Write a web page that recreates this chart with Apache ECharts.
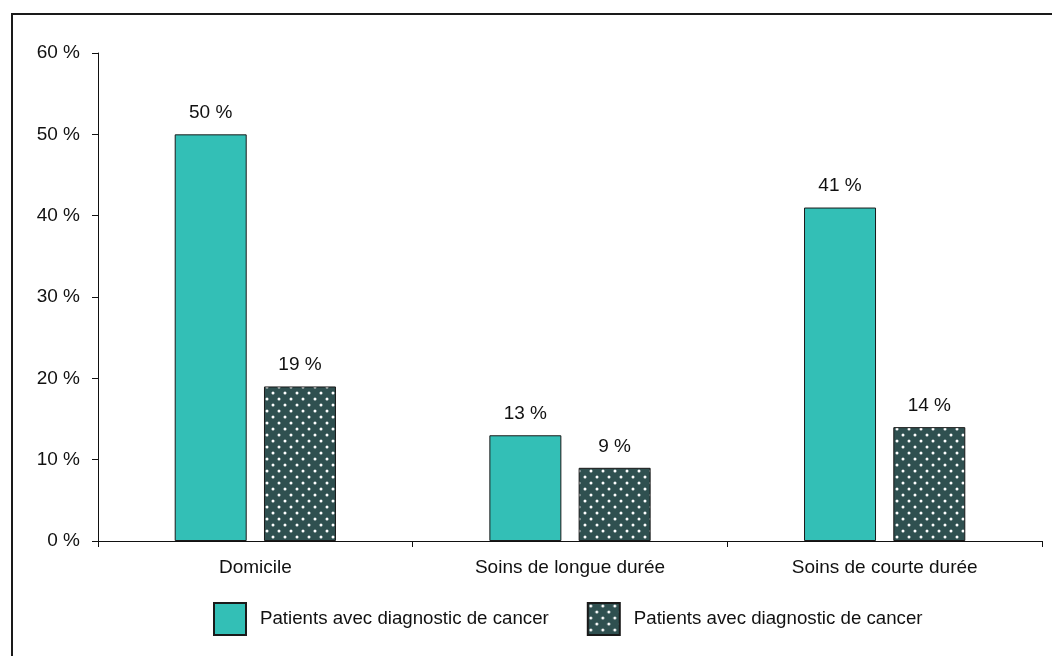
<!DOCTYPE html>
<html>
<head>
<meta charset="utf-8">
<script src="https://cdn.jsdelivr.net/npm/echarts@6/dist/echarts.min.js"></script>
<style>
  html, body { margin: 0; padding: 0; background: #fff; }
  #chart { width: 1052px; height: 656px; }
</style>
</head>
<body>
<div id="chart"></div>
<script>
// Lieu de décès : part des patients (%)
const categories = ['Domicile', 'Soins de longue durée', 'Soins de courte durée'];
const seriesLabels = ['Patients avec diagnostic de cancer', 'Patients avec diagnostic de cancer'];
const valuesA = [50, 13, 41];
const valuesB = [19, 9, 14];
const yTicks = { min: 0, max: 60, interval: 10 };

const FONT = '"Liberation Sans", Arial, sans-serif';
const FS = 19;

// Dotted fill for the second series: staggered white dots on dark slate
function dotPattern() {
  const c = document.createElement('canvas');
  c.width = 12; c.height = 12;
  const g = c.getContext('2d');
  g.fillStyle = '#2f5050';
  g.fillRect(0, 0, 12, 12);
  g.fillStyle = '#ffffff';
  g.beginPath(); g.arc(3, 3, 1.5, 0, Math.PI * 2); g.fill();
  g.beginPath(); g.arc(9, 9, 1.5, 0, Math.PI * 2); g.fill();
  return c;
}

const chart = echarts.init(document.getElementById('chart'), null, { renderer: 'canvas' });

const valueLabel = {
  show: true,
  position: 'top',
  distance: 12,
  formatter: p => p.value + ' %',
  color: '#111',
  fontSize: FS,
  fontFamily: FONT
};

chart.setOption({
  backgroundColor: '#fff',
  animation: false,
  graphic: [{
    type: 'rect',
    shape: { x: 12, y: 14, width: 1060, height: 680 },
    style: { fill: 'none', stroke: '#1a1a1a', lineWidth: 2 },
    silent: true
  }],
  grid: { left: 98, right: 10, top: 53, bottom: 115, containLabel: false },
  legend: {
    top: 602,
    left: 213,
    padding: 0,
    itemWidth: 32,
    itemHeight: 32,
    itemGap: 38,
    icon: 'rect',
    data: ['s1', 's2'],
    formatter: name => seriesLabels[name === 's1' ? 0 : 1],
    textStyle: { color: '#111', fontSize: 18.7, fontFamily: FONT, padding: [0, 0, 0, 9] }
  },
  xAxis: {
    type: 'category',
    data: categories,
    axisLine: { lineStyle: { color: '#111', width: 1 } },
    axisTick: { show: true, length: 6, lineStyle: { color: '#111' } },
    axisLabel: { color: '#111', fontSize: FS, fontFamily: FONT, margin: 17 }
  },
  yAxis: {
    type: 'value',
    min: yTicks.min,
    max: yTicks.max,
    interval: yTicks.interval,
    splitLine: { show: false },
    axisLine: { show: true, lineStyle: { color: '#111', width: 1 } },
    axisTick: { show: true, length: 6, lineStyle: { color: '#111' } },
    axisLabel: { color: '#111', fontSize: FS, fontFamily: FONT, margin: 18, formatter: v => v + ' %' }
  },
  series: [
    {
      name: 's1',
      type: 'bar',
      data: valuesA,
      barWidth: 72,
      barGap: '24%',
      itemStyle: { color: '#33bfb6', borderColor: '#1a1a1a', borderWidth: 1 },
      label: valueLabel
    },
    {
      name: 's2',
      type: 'bar',
      data: valuesB,
      barWidth: 72,
      itemStyle: { color: { image: dotPattern(), repeat: 'repeat' }, borderColor: '#1a1a1a', borderWidth: 1 },
      label: valueLabel
    }
  ]
});
</script>
</body>
</html>
